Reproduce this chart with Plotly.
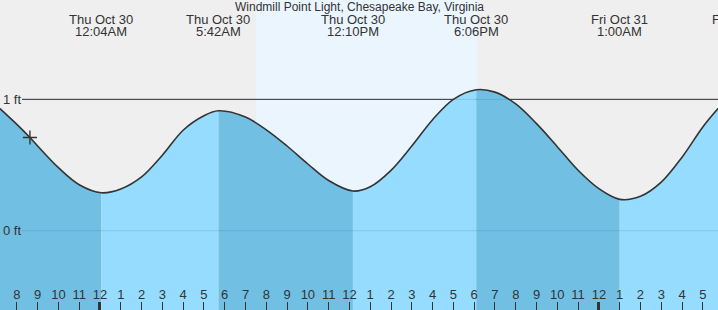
import plotly.graph_objects as go

# ---------------- data (hours from midnight Thu Oct 30; tide height in feet) ----------------
hours = [-4.81, -4, -3.37, -3, -2, -1, 0.067,
         1, 2, 3, 4, 5, 5.70,
         7, 8, 9, 10, 11, 12.167,
         13, 14, 15, 16, 17, 18.10,
         19, 20, 21, 22, 23, 24, 25.0,
         26, 27, 28, 29, 29.73]
feet = [0.93, 0.81, 0.71, 0.645, 0.48, 0.35, 0.289,
        0.318, 0.41, 0.575, 0.765, 0.875, 0.913,
        0.865, 0.768, 0.645, 0.508, 0.382, 0.302,
        0.335, 0.46, 0.645, 0.845, 1.0, 1.073,
        1.055, 0.965, 0.815, 0.64, 0.46, 0.32, 0.239,
        0.262, 0.37, 0.56, 0.79, 0.93]

extreme_hours = [0.067, 5.70, 12.167, 18.10, 25.0]
extreme_dates = ["Thu Oct 30", "Thu Oct 30", "Thu Oct 30", "Thu Oct 30", "Fri Oct 31"]
extreme_times = ["12:04AM", "5:42AM", "12:10PM", "6:06PM", "1:00AM"]
next_date, next_time = "Fri Oct 31", "6:46AM"

sunrise_hour, sunset_hour = 7.50, 18.15
now_hour, now_feet = -3.37, 0.71

tick_hours = list(range(-4, 30))
tick_labels = ["8", "9", "10", "11", "12", "1", "2", "3", "4", "5", "6", "7", "8", "9", "10", "11",
               "12", "1", "2", "3", "4", "5", "6", "7", "8", "9", "10", "11", "12", "1", "2", "3",
               "4", "5"]
midnight_hours = [0, 24]

y_ticks = [0, 1]
y_labels = ["0 ft", "1 ft"]

title = "Windmill Point Light, Chesapeake Bay, Virginia"

# ---------------- styling ----------------
W, H = 718, 310
X_RANGE = [-4.81, 29.73]
Y_RANGE = [-0.603, 1.756]
SKY = "#efefef"
DAY = "#ebf5fe"
WATER_DARK = "#71c0e4"
WATER_LIGHT = "#96dcfe"
INK = "#333333"
FONT = "Liberation Sans, Arial, sans-serif"

fig = go.Figure()

# water fill, one segment between each pair of consecutive extremes
bounds = [hours[0]] + extreme_hours + [hours[-1]]
for a, b in zip(bounds[:-1], bounds[1:]):
    pts = [(h, f) for h, f in zip(hours, feet) if a - 1e-9 <= h <= b + 1e-9]
    xs = [p[0] for p in pts]
    ys = [p[1] for p in pts]
    color = WATER_LIGHT if ys[-1] > ys[0] else WATER_DARK
    fig.add_trace(go.Scatter(x=[a, b], y=[Y_RANGE[0], Y_RANGE[0]], mode="lines",
                             line=dict(width=0, color=color), hoverinfo="skip", showlegend=False))
    fig.add_trace(go.Scatter(x=xs, y=ys, mode="lines", line=dict(width=0, color=color, shape="spline"),
                             fill="tonexty", fillcolor=color, hoverinfo="skip", showlegend=False))

# tide curve
fig.add_trace(go.Scatter(x=hours, y=feet, mode="lines",
                         line=dict(color=INK, width=1.6, shape="spline"),
                         hoverinfo="skip", showlegend=False))

# current position marker
fig.add_trace(go.Scatter(x=[now_hour], y=[now_feet], mode="markers",
                         marker=dict(symbol="cross-thin", size=10, line=dict(color=INK, width=1.4)),
                         hoverinfo="skip", showlegend=False))

# invisible trace for the midnight tick axis
fig.add_trace(go.Scatter(x=midnight_hours, y=[Y_RANGE[0]] * 2, mode="markers", xaxis="x2",
                         marker=dict(opacity=0), hoverinfo="skip", showlegend=False))

shapes = [
    dict(type="rect", xref="x", yref="paper", x0=sunrise_hour, x1=sunset_hour, y0=0, y1=1,
         fillcolor=DAY, line=dict(width=0), layer="below"),
    dict(type="line", xref="paper", yref="y", x0=22 / W, x1=1, y0=1, y1=1,
         line=dict(color=INK, width=1), layer="below"),
    dict(type="line", xref="paper", yref="y", x0=22 / W, x1=1, y0=1, y1=1,
         line=dict(color="rgba(0,40,90,0.12)", width=1), layer="above"),
    dict(type="line", xref="paper", yref="y", x0=22 / W, x1=1, y0=0, y1=0,
         line=dict(color="rgba(0,40,90,0.12)", width=1), layer="above"),
]

lab_font = dict(size=13, color=INK, family=FONT)
annotations = [dict(text=title, xref="paper", yref="paper", x=0.5, y=1 - 7.5 / H,
                    xanchor="center", yanchor="middle", showarrow=False,
                    font=dict(size=12, color=INK, family=FONT))]
for h, d, t in zip(extreme_hours, extreme_dates, extreme_times):
    annotations.append(dict(text=d, xref="x", yref="paper", x=h, y=1 - 19.5 / H,
                            xanchor="center", yanchor="middle", showarrow=False, font=lab_font))
    annotations.append(dict(text=t, xref="x", yref="paper", x=h, y=1 - 31.5 / H,
                            xanchor="center", yanchor="middle", showarrow=False, font=lab_font))
# next extreme, beyond the right edge (only partly visible)
annotations.append(dict(text=next_date, xref="paper", yref="paper", x=740 / W, y=1 - 19.5 / H,
                        xanchor="center", yanchor="middle", showarrow=False, font=lab_font))
annotations.append(dict(text=next_time, xref="paper", yref="paper", x=742 / W, y=1 - 31.5 / H,
                        xanchor="center", yanchor="middle", showarrow=False, font=lab_font))

fig.update_layout(
    width=W, height=H, margin=dict(l=0, r=0, t=0, b=0),
    paper_bgcolor=SKY, plot_bgcolor=SKY,
    font=dict(family=FONT, color=INK, size=13),
    showlegend=False,
    shapes=shapes, annotations=annotations,
    xaxis=dict(range=X_RANGE, tickvals=tick_hours, ticktext=tick_labels,
               ticks="inside", ticklen=8, tickwidth=1, tickcolor=INK,
               ticklabelposition="inside", ticklabeloverflow="allow",
               tickfont=dict(size=13, color=INK),
               showgrid=False, zeroline=False, showline=False, fixedrange=True),
    xaxis2=dict(range=X_RANGE, overlaying="x", anchor="y", side="bottom",
                tickvals=midnight_hours, ticks="inside", ticklen=8, tickwidth=3, tickcolor=INK,
                showticklabels=False, showgrid=False, zeroline=False, showline=False),
    yaxis=dict(range=Y_RANGE, tickvals=y_ticks, ticktext=y_labels, ticks="",
               ticklabelposition="inside", ticklabeloverflow="allow",
               tickfont=dict(size=13, color=INK),
               showgrid=False, zeroline=False, showline=False, fixedrange=True),
)

fig.write_html("out.html")
